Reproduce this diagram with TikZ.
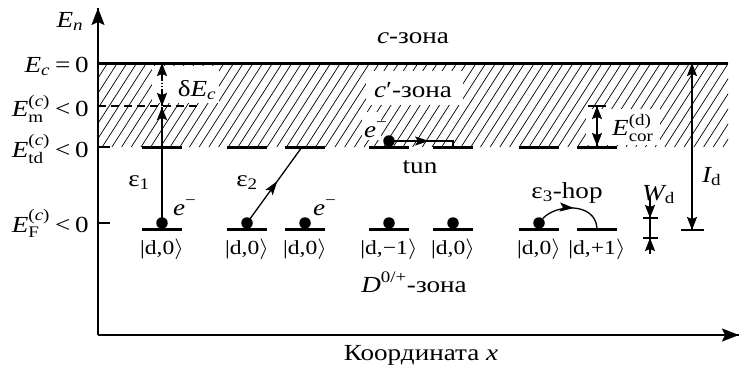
\documentclass[tikz,border=0pt]{standalone}
\usepackage{amsmath}
\usepackage{fontspec}
\setmainfont{Liberation Serif}
\usepackage{graphicx}
\usetikzlibrary{arrows.meta,decorations.markings}

\newcommand{\sx}[1]{\scalebox{1.18}[1]{#1}}

\begin{document}
\begin{tikzpicture}[x=1pt,y=-1pt,
  lab/.style={font=\fontsize{23}{27}\selectfont, inner sep=0pt},
  ketlab/.style={font=\fontsize{20}{23}\selectfont, inner sep=0pt},
  lvl/.style={line width=3pt},
  axisline/.style={line width=1.8pt, postaction={decorate}, decoration={markings,
     mark=at position 1 with {\arrow{Stealth[length=17pt,width=13pt,inset=3pt]}}}},
  arr/.style={line width=1.3pt},
  endtip/.style={postaction={decorate}, decoration={markings,
     mark=at position 1 with {\arrow{Stealth[length=13pt,width=10pt,inset=2pt]}}}},
  bothtip/.style={postaction={decorate}, decoration={markings,
     mark=at position 0 with {\arrowreversed{Stealth[length=13pt,width=10pt,inset=2pt]}},
     mark=at position 1 with {\arrow{Stealth[length=13pt,width=10pt,inset=2pt]}}}},
  tick/.style={line width=1.5pt},
  hatchline/.style={line width=0.7pt, black},
  dotc/.style={circle, fill=black, inner sep=0pt, minimum size=11.5pt},
  midarr/.style={postaction={decorate}, decoration={markings,
     mark=at position #1 with {\arrow{Stealth[length=14pt,width=9pt,inset=3pt]}}}}
]
\useasboundingbox (0,0) rectangle (740,373);

% named coordinates
\coordinate (O) at (98,335);
\coordinate (ytop) at (98,8);
\coordinate (xend) at (739,335);
\coordinate (ecL) at (98,63);
\coordinate (ecR) at (728,63);

% hatching of c'-zone
\begin{scope}
  \clip (98,63) rectangle (728,147);
  \foreach \i in {0,...,72} {
    \draw[hatchline] ({44+9.7*\i},147) -- ++(54,-84);
  }
\end{scope}
% white patches round labels in the hatched area
\fill[white] (152,66) rectangle (219,103);
\fill[white] (586,109) rectangle (660,145);
\fill[white] (366,71) rectangle (463,105);
\fill[white] (362,112) rectangle (381,140);

% axes
\draw[axisline] (O) -- (ytop);
\draw[axisline] (O) -- (xend);

% conduction band edge
\draw[line width=3pt] (ecL) -- (ecR);
% E_m dashed line
\draw[line width=1.8pt, dash pattern=on 8pt off 5pt] (98,106) -- (200,106);
% ticks on the energy axis
\draw[tick] (98,147) -- (110,147);
\draw[tick] (98,223) -- (110,223);

% levels
\foreach \c [count=\i] in {162,247,305,389,453,539,597} {
  \coordinate (lo\i) at (\c,229);
  \coordinate (up\i) at (\c,147);
  \draw[lvl] ([xshift=-20pt]lo\i) -- ([xshift=20pt]lo\i);
  \draw[lvl] ([xshift=-20pt]up\i) -- ([xshift=20pt]up\i);
}

% kets
\foreach \c/\k [count=\i] in {162/0,247/0,305/0,389/−1,453/0,539/0,597/+1} {
  \node[ketlab, anchor=base] (k\i) at (\c,254) {\sx{|d,\k$\rangle$}};
}

% electrons
\foreach \c [count=\i] in {162,247,305,389,453,539} {
  \node[dotc] (p\i) at (\c,223) {};
}
\node[dotc] (q4) at (389,141) {};

% delta E_c
\coordinate (c1) at (162,63);
\coordinate (m1) at (162,106);
\draw[arr, dotted] (162,76) -- (162,94);
\draw[arr, endtip] (162,80) -- (c1);
\draw[arr, endtip] (162,90) -- (m1);

% eps1
\draw[arr, endtip] (p1.center) -- (162,107);
% eps2
\draw[arr, midarr=0.55] (p2.center) -- (302,147);
% tunnelling
\coordinate (t1) at (453,141);
\draw[arr, midarr=40pt] (q4.center) -- (t1) -- (453,147);
% eps3 hop
\draw[arr, midarr=0.5] (p6.50) .. controls (556,204) and (595,202) .. (597,228);

% E_cor
\coordinate (cor) at (597,106);
\draw[arr, bothtip] (cor) -- (597,146);
\draw[tick] (588,106) -- (606,106);

% I_d
\coordinate (id1) at (692,63);
\coordinate (id2) at (692,230);
\draw[arr, bothtip] (id1) -- (id2);
\draw[tick] (681,230) -- (704,230);

% W_d
\draw[arr] (650,197) -- (650,254);
\draw[arr, endtip] (650,203) -- (650,218);
\draw[arr, endtip] (650,252) -- (650,238);
\draw[tick] (643,218) -- (658,218);
\draw[tick] (643,238) -- (658,238);

% labels
\node[lab, anchor=base] (En) at (70,27) {\sx{$\textit{E}_{\textit{n}}$}};
\node[lab, anchor=base east] (lEc) at (89,72) {\sx{$\textit{E}_{\textit{c}}\,\text{=}\,\text{0}$}};
\node[lab, anchor=base east] (lEm) at (89,116) {\sx{$\textit{E}^{\text{(\textit{c})}}_{\text{m}}\,\text{<}\,\text{0}$}};
\node[lab, anchor=base east] (lEtd) at (89,157) {\sx{$\textit{E}^{\text{(\textit{c})}}_{\text{td}}\,\text{<}\,\text{0}$}};
\node[lab, anchor=base east] (lEF) at (89,232) {\sx{$\textit{E}^{\text{(\textit{c})}}_{\text{F}}\,\text{<}\,\text{0}$}};

\node[lab, anchor=base] (cz) at (413,43) {\sx{\textit{c}-зона}};
\node[lab, anchor=base] (cpz) at (413,97) {\sx{\textit{c}′-зона}};
\node[lab, anchor=base] (dEc) at (197,96) {\sx{δ$\textit{E}_{\textit{c}}$}};
\node[lab, anchor=base] (e1) at (139,186) {\sx{ε$_{\text{1}}$}};
\node[lab, anchor=base] (e2) at (247,186) {\sx{ε$_{\text{2}}$}};
\node[lab, anchor=base west] (em1) at (173,215) {\sx{$\textit{e}^{\text{−}}$}};
\node[lab, anchor=base west] (em2) at (313,215) {\sx{$\textit{e}^{\text{−}}$}};
\node[lab, anchor=base west] (em3) at (364,137) {\sx{$\textit{e}^{\text{−}}$}};
\node[lab, anchor=base] (tun) at (420,173) {\sx{tun}};
\node[lab, anchor=base west] (Ecor) at (612,135) {\sx{$\textit{E}^{\text{(d)}}_{\text{cor}}$}};
\node[lab, anchor=base west] (Id) at (702,182) {\sx{$\textit{I}_{\text{d}}$}};
\node[lab, anchor=base west] (Wd) at (642,200) {\sx{$\textit{W}_{\text{d}}$}};
\node[lab, anchor=base] (hop) at (567,198) {\sx{ε$_{\text{3}}$-hop}};
\node[lab, anchor=base] (Dz) at (414,292) {\sx{$\textit{D}^{\text{0/+}}$-зона}};
\node[lab, anchor=base] (xl) at (421,360) {\sx{Координата \textit{x}}};
\end{tikzpicture}
\end{document}
